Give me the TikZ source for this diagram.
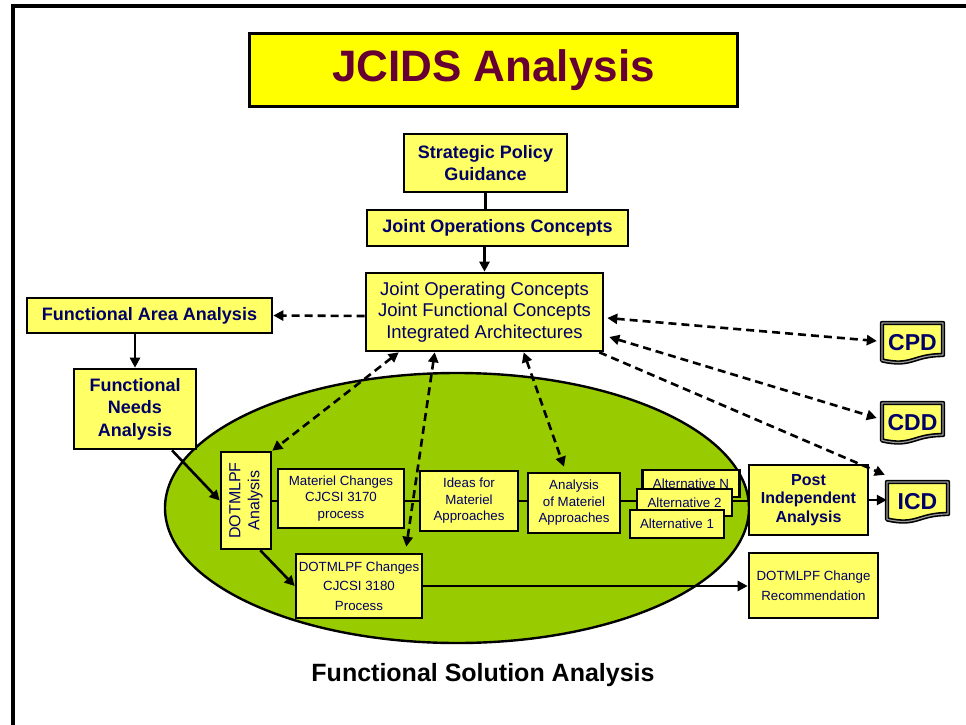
\documentclass[tikz,border=0pt]{standalone}
\usepackage{fontspec}
\usepackage{graphicx}
\setmainfont{Liberation Sans}
\usetikzlibrary{arrows.meta,calc}
\definecolor{navy}{HTML}{000066}
\definecolor{titlered}{HTML}{660033}
\definecolor{boxy}{HTML}{FFFF66}
\definecolor{titley}{HTML}{FFFF00}
\definecolor{ellgreen}{HTML}{99CC00}
\newcommand\myfs[2]{\fontsize{#1}{#2}\selectfont}
\newcommand\docshape[1]{%
  \draw[line width=1.6pt, double=gray!80, double distance=1.2pt, fill=boxy, line join=round]
    ([shift={(-30.5,-20)}]#1) -- ([shift={(30.5,-20)}]#1) -- ([shift={(30.5,12)}]#1)
    .. controls ([shift={(0,12)}]#1) and ([shift={(0,24.3)}]#1) .. ([shift={(-30.5,17.4)}]#1) -- cycle;}
\begin{document}
\begin{tikzpicture}[x=1pt,y=-1pt,
  box/.style={draw=black, line width=2.6pt, fill=boxy, inner sep=0pt, align=center, text=navy},
  bbox/.style={box, font=\myfs{18}{21.5}\bfseries},
  sbox/.style={box, font=\myfs{13.3}{16.5}},
  altbox/.style={box, line width=2.4pt, font=\myfs{13.3}{16}, minimum height=27pt},
  doctext/.style={inner sep=0pt, minimum width=61pt, minimum height=40pt, text=navy, font=\myfs{23}{26}\bfseries},
  conn/.style={line width=2.6pt, -{Triangle[length=10pt,width=10pt]}},
  plain/.style={line width=2.6pt},
  dconn/.style={conn, dash pattern=on 8pt off 5pt},
  ddconn/.style={dconn, {Triangle[length=10pt,width=10pt]}-{Triangle[length=10pt,width=10pt]}}]
\useasboundingbox (0,0) rectangle (966,725);
\fill[white] (0,0) rectangle (966,725);
% frame
\draw[line width=4.5pt] (13,725) -- (13,6) -- (966,6);

% title
\node[draw=black, line width=3pt, fill=titley, minimum width=488pt, minimum height=73pt, inner sep=0pt,
  text=titlered, font=\myfs{44}{50}\bfseries] (title) at (493.5,70) {JCIDS Analysis};

% ellipse region
\draw[fill=ellgreen, line width=2.4pt] (457,508) ellipse [x radius=292pt, y radius=135pt];

% top chain
\node[bbox, minimum width=163pt, minimum height=58pt] (spg) at (485.5,163) {Strategic Policy\\Guidance};
\node[bbox, minimum width=261pt, minimum height=36pt] (jopsc) at (497.5,228) {Joint Operations Concepts};
\node[box, minimum width=237pt, minimum height=78pt, font=\myfs{18.5}{21.5}] (joc) at (484.5,312)
  {Joint Operating Concepts\\Joint Functional Concepts\\Integrated Architectures};
\node[bbox, minimum width=245pt, minimum height=35pt] (faa) at (149.5,315.5) {Functional Area Analysis};
\node[bbox, minimum width=122pt, minimum height=80pt, font=\myfs{18}{22.5}\bfseries] (fna) at (135,409) {Functional\\Needs\\Analysis};

% inside ellipse
\node[box, minimum width=50pt, minimum height=97pt] (dan) at (246,500.5)
  {\rotatebox{90}{\myfs{16}{19}\begin{tabular}{@{}c@{}}DOTMLPF\\Analysis\end{tabular}}};
\node[sbox, minimum width=126pt, minimum height=59pt] (mat) at (341,498.5) {Materiel Changes\\CJCSI 3170\\process};
\node[sbox, minimum width=98pt, minimum height=60pt] (ideas) at (469,501) {Ideas for\\Materiel\\Approaches};
\node[sbox, minimum width=92pt, minimum height=60pt] (ama) at (574,503) {Analysis\\of Materiel\\Approaches};
\node[altbox, minimum width=97pt] (altn) at (691,483.5) {Alternative N};
\node[altbox, minimum width=95pt] (alt2) at (684.5,502.5) {Alternative 2};
\node[altbox, minimum width=94pt, minimum height=28pt] (alt1) at (677,524) {Alternative 1};
\node[box, minimum width=119pt, minimum height=70pt, font=\myfs{16}{18.5}\bfseries] (post) at (808.5,500) {Post\\Independent\\Analysis};
\node[sbox, minimum width=126pt, minimum height=64pt, font=\myfs{13.3}{19.5}] (dch) at (359,586) {DOTMLPF Changes\\CJCSI 3180\\Process};
\node[sbox, minimum width=129pt, minimum height=65pt, font=\myfs{13.3}{20}] (dcr) at (813.5,585.5) {DOTMLPF Change\\Recommendation};

% documents
\coordinate (cpdc) at (912.5,343);
\coordinate (cddc) at (912.5,423);
\coordinate (icdc) at (917.5,502);
\docshape{cpdc}\docshape{cddc}\docshape{icdc}
\node[doctext] (cpd) at (cpdc) {CPD};
\node[doctext] (cdd) at (cddc) {CDD};
\node[doctext] (icd) at (icdc) {ICD};

% caption
\node[font=\myfs{25}{30}\bfseries, inner sep=0pt] (fsa) at (483,675) {Functional Solution Analysis};

% solid connectors
\draw[plain] (spg.south) -- (spg.south |- jopsc.north);
\draw[conn] (joc.north |- jopsc.south) -- (joc.north);
\draw[conn] (fna.north |- faa.south) -- (fna.north);
\draw[conn] ([xshift=37pt]fna.south) -- (dan.west);
\draw[conn] ([xshift=-12pt]dan.south east) -- (dch.west);
\draw[conn] (dch.east) -- (dch.east -| dcr.west);
\coordinate (chy) at (0,501);
\draw[plain] (dan.east |- chy) -- (mat.west |- chy);
\draw[plain] (mat.east |- chy) -- (ideas.west |- chy);
\draw[plain] (ideas.east |- chy) -- (ama.west |- chy);
\draw[plain] (ama.east |- chy) -- (alt2.west |- chy);
\draw[plain] (alt2.east |- chy) -- (post.west |- chy);
\draw[conn] (post.east) -- (post.east -| icd.west);

% dashed connectors
\draw[dconn] ([yshift=-4pt]joc.west) -- (faa.east);
\draw[ddconn] ([xshift=34pt]joc.south west) -- (dan.north east);
\draw[ddconn] ([xshift=70pt]joc.south west) -- ([shift={(-17pt,6pt)}]dch.north east);
\draw[ddconn] ([xshift=159pt]joc.south west) -- ([shift={(-10pt,5pt)}]ama.north);
\draw[ddconn] ([shift={(3pt,-6pt)}]joc.east) -- ([shift={(-5pt,2pt)}]cpd.west);
\draw[ddconn] ([shift={(5pt,-25pt)}]joc.east) -- ([shift={(-5pt,5pt)}]cdd.west);
\draw[dconn] ([xshift=-5pt]joc.south east) -- ([shift={(-2pt,7pt)}]icd.north west);
\end{tikzpicture}
\end{document}
